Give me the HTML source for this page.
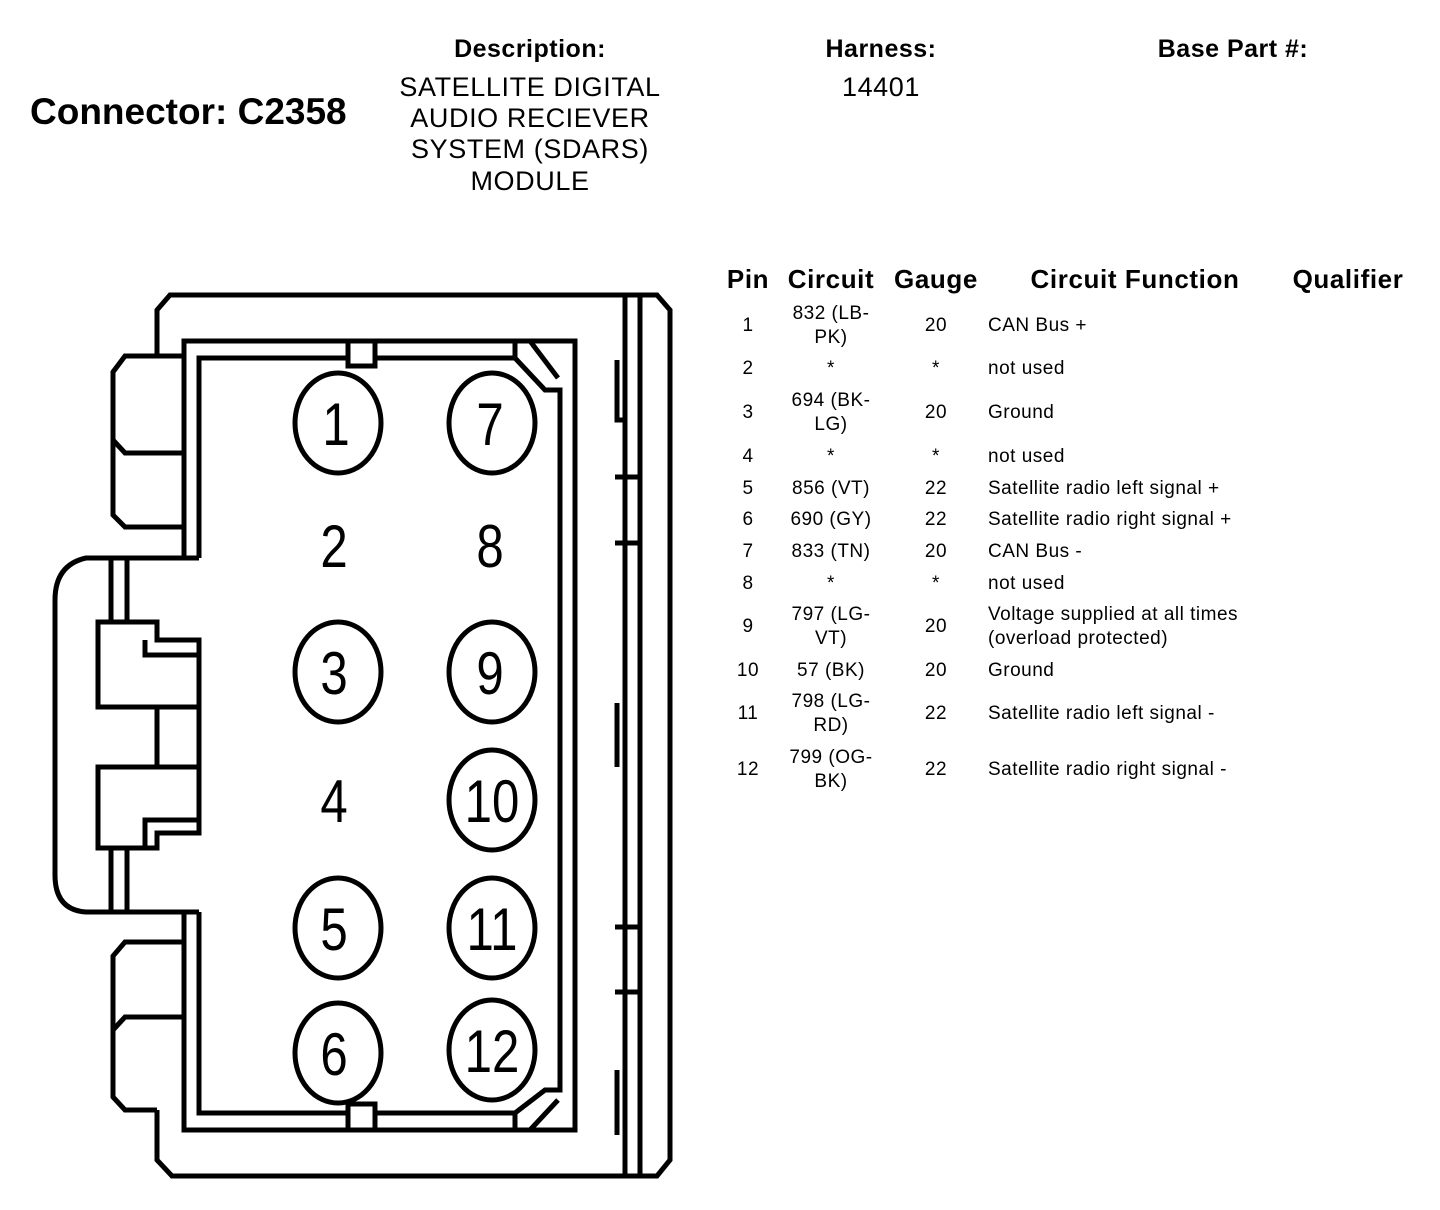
<!DOCTYPE html>
<html><head><meta charset="utf-8"><style>
html,body{margin:0;padding:0;background:#fff;width:1440px;height:1210px;overflow:hidden}
svg{display:block}
text{font-family:"Liberation Sans",Arial,sans-serif;fill:#000}
</style></head><body>
<svg width="1440" height="1210" viewBox="0 0 1440 1210" xmlns="http://www.w3.org/2000/svg">
<g font-weight="bold">
<text x="30" y="124" font-size="37">Connector: C2358</text>
<text x="530" y="57" font-size="25" text-anchor="middle" letter-spacing="0.5">Description:</text>
<text x="881" y="57" font-size="25" text-anchor="middle" letter-spacing="0.5">Harness:</text>
<text x="1233" y="57" font-size="25" text-anchor="middle" letter-spacing="0.5">Base Part #:</text>
</g>
<g font-size="27" text-anchor="middle" letter-spacing="0.6">
<text x="530" y="96">SATELLITE DIGITAL</text>
<text x="530" y="127">AUDIO RECIEVER</text>
<text x="530" y="158">SYSTEM (SDARS)</text>
<text x="530" y="190">MODULE</text>
<text x="881" y="96">14401</text>
</g>
<g font-weight="bold" font-size="26" letter-spacing="0.6">
<text x="748" y="288" text-anchor="middle">Pin</text>
<text x="831" y="288" text-anchor="middle">Circuit</text>
<text x="936" y="288" text-anchor="middle">Gauge</text>
<text x="1135" y="288" text-anchor="middle">Circuit Function</text>
<text x="1348" y="288" text-anchor="middle">Qualifier</text>
</g>
<g font-size="19" letter-spacing="0.5">
<g text-anchor="middle">
<text x="748" y="331">1</text><text x="831" y="319">832 (LB-</text><text x="831" y="343">PK)</text><text x="936" y="331">20</text>
<text x="748" y="374">2</text><text x="831" y="374">*</text><text x="936" y="374">*</text>
<text x="748" y="418">3</text><text x="831" y="406">694 (BK-</text><text x="831" y="430">LG)</text><text x="936" y="418">20</text>
<text x="748" y="462">4</text><text x="831" y="462">*</text><text x="936" y="462">*</text>
<text x="748" y="494">5</text><text x="831" y="494">856 (VT)</text><text x="936" y="494">22</text>
<text x="748" y="525">6</text><text x="831" y="525">690 (GY)</text><text x="936" y="525">22</text>
<text x="748" y="557">7</text><text x="831" y="557">833 (TN)</text><text x="936" y="557">20</text>
<text x="748" y="589">8</text><text x="831" y="589">*</text><text x="936" y="589">*</text>
<text x="748" y="632">9</text><text x="831" y="620">797 (LG-</text><text x="831" y="644">VT)</text><text x="936" y="632">20</text>
<text x="748" y="676">10</text><text x="831" y="676">57 (BK)</text><text x="936" y="676">20</text>
<text x="748" y="719">11</text><text x="831" y="707">798 (LG-</text><text x="831" y="731">RD)</text><text x="936" y="719">22</text>
<text x="748" y="775">12</text><text x="831" y="763">799 (OG-</text><text x="831" y="787">BK)</text><text x="936" y="775">22</text>
</g>
<text x="988" y="331">CAN Bus +</text>
<text x="988" y="374">not used</text>
<text x="988" y="418">Ground</text>
<text x="988" y="462">not used</text>
<text x="988" y="494">Satellite radio left signal +</text>
<text x="988" y="525">Satellite radio right signal +</text>
<text x="988" y="557">CAN Bus -</text>
<text x="988" y="589">not used</text>
<text x="988" y="620">Voltage supplied at all times</text>
<text x="988" y="644">(overload protected)</text>
<text x="988" y="676">Ground</text>
<text x="988" y="719">Satellite radio left signal -</text>
<text x="988" y="775">Satellite radio right signal -</text>
</g>

<g fill="none" stroke="#000" stroke-width="5" stroke-linejoin="miter">
<path d="M157,356 L157,310 L170,295 L657,295 L670,310 L670,1160 L657,1176 L172,1176 L157,1160 L157,1110"/>
<path d="M625,295 V1176 M640,295 V1176"/>
<path d="M184,356 L125,356 L113,372 L113,515 L125,527 L184,527 M113,440 L125,453 L184,453"/>
<path d="M184,942 L125,942 L113,956 L113,1097 L125,1110 L157,1110 M113,1030 L125,1017 L184,1017"/>
<path d="M184,558 L184,341 L575,341 L575,1130 L184,1130 L184,912"/>
<path d="M199,558 L199,358 L515,358 L545,390 L560,390 L560,1090 L545,1090 L515,1113 L199,1113 L199,912"/>
<path d="M515,341 L515,358 M530,341 L558,378"/>
<path d="M515,1130 L515,1113 M530,1130 L558,1100"/>
<rect x="348" y="341" width="27" height="25" fill="#fff"/>
<rect x="348" y="1104" width="27" height="26" fill="#fff"/>
<path d="M199,558 L86,558 Q55,565 55,600 L55,875 Q55,910 86,912 L199,912"/>
<path d="M111,558 V622 M127,558 V622 M111,848 V912 M127,848 V912"/>
<path d="M98,622 L157,622 L157,640 L199,640 L199,707 L98,707 Z M145,640 L145,655 L199,655"/>
<path d="M157,707 V767 M199,707 V767"/>
<path d="M98,767 L199,767 L199,833 L157,833 L157,848 L98,848 Z M145,848 L145,820 L199,820"/>
<path d="M617,360 V420 H625 M617,703 V767 M617,1070 V1135"/>
<path d="M615,477 H642 M615,543 H642 M615,927 H642 M615,992 H642"/>
</g>
<g fill="none" stroke="#000" stroke-width="5">
<ellipse cx="338" cy="423" rx="43" ry="50"/>
<ellipse cx="492" cy="423" rx="43" ry="50"/>
<ellipse cx="338" cy="672" rx="43" ry="50"/>
<ellipse cx="492" cy="672" rx="43" ry="50"/>
<ellipse cx="492" cy="800" rx="43" ry="50"/>
<ellipse cx="338" cy="928" rx="43" ry="50"/>
<ellipse cx="492" cy="928" rx="43" ry="50"/>
<ellipse cx="338" cy="1053" rx="43" ry="50"/>
<ellipse cx="492" cy="1050" rx="43" ry="50"/>
</g>
<g font-size="60" text-anchor="middle">
<text transform="translate(336,445) scale(0.82,1)">1</text><text transform="translate(490,445) scale(0.82,1)">7</text>
<text transform="translate(334,567) scale(0.82,1)">2</text><text transform="translate(490,567) scale(0.82,1)">8</text>
<text transform="translate(334,694) scale(0.82,1)">3</text><text transform="translate(490,694) scale(0.82,1)">9</text>
<text transform="translate(334,822) scale(0.82,1)">4</text><text transform="translate(492,822) scale(0.82,1)">10</text>
<text transform="translate(334,950) scale(0.82,1)">5</text><text transform="translate(492,950) scale(0.82,1)">11</text>
<text transform="translate(334,1075) scale(0.82,1)">6</text><text transform="translate(492,1072) scale(0.82,1)">12</text>
</g>
</svg>
</body></html>
